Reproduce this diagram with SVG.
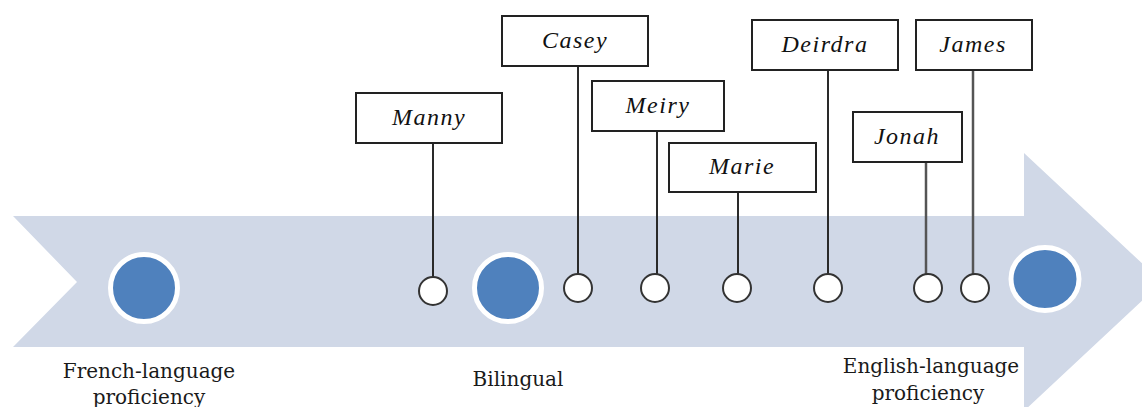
<svg xmlns="http://www.w3.org/2000/svg" width="1142" height="407" viewBox="0 0 1142 407">
<style>
.box{fill:#fff;stroke:#222;stroke-width:2}
.name{font-family:"Liberation Serif",serif;font-style:italic;font-size:24px;letter-spacing:1.5px;fill:#111;text-anchor:middle}
.lbl{font-family:"DejaVu Serif",serif;font-size:20px;fill:#1a1a1a;text-anchor:middle}
.big{fill:#4f81bd;stroke:#fff;stroke-width:5}
.dot{fill:#fff;stroke:#333;stroke-width:2}
.ln{stroke:#2a2a2a;stroke-width:2;fill:none}
.ln2{stroke:#555;stroke-width:2.5;fill:none}
</style>
<g id="arrow">
<polygon points="13,216 1024,216 1024,153 1162,282 1024,411 1024,347 13,347 77,282" fill="#d0d8e7"/>
</g>
<g id="connectors">
<line class="ln" x1="433" y1="143" x2="433" y2="277"/>
<line class="ln" x1="578" y1="66" x2="578" y2="274"/>
<line class="ln" x1="657" y1="131" x2="657" y2="274"/>
<line class="ln" x1="738" y1="192" x2="738" y2="274"/>
<line class="ln" x1="828" y1="70" x2="828" y2="274"/>
<line class="ln2" x1="926" y1="162" x2="926" y2="274"/>
<line class="ln2" x1="973" y1="70" x2="973" y2="274"/>
</g>
<g id="french"><circle class="big" cx="144" cy="288" r="33.5"/><text class="lbl" x="149" y="378">French-language</text><text class="lbl" x="149" y="404">proficiency</text></g>
<g id="bilingual"><circle class="big" cx="508" cy="288" r="33.5"/><text class="lbl" x="518" y="386">Bilingual</text></g>
<g id="english"><ellipse class="big" cx="1045" cy="279" rx="34" ry="31.5"/><text class="lbl" x="931" y="373">English-language</text><text class="lbl" x="928" y="400">proficiency</text></g>
<g id="manny"><circle class="dot" cx="433" cy="291" r="14"/><rect class="box" x="356" y="93" width="146" height="50"/><text class="name" x="429" y="125">Manny</text></g>
<g id="casey"><circle class="dot" cx="578" cy="288" r="14"/><rect class="box" x="502" y="16" width="146" height="50"/><text class="name" x="575" y="48">Casey</text></g>
<g id="meiry"><circle class="dot" cx="655" cy="288" r="14"/><rect class="box" x="592" y="81" width="132" height="50"/><text class="name" x="658" y="113">Meiry</text></g>
<g id="marie"><circle class="dot" cx="737" cy="288" r="14"/><rect class="box" x="669" y="143" width="147" height="49"/><text class="name" x="742" y="174">Marie</text></g>
<g id="deirdra"><circle class="dot" cx="828" cy="288" r="14"/><rect class="box" x="752" y="20" width="146" height="50"/><text class="name" x="825" y="52">Deirdra</text></g>
<g id="jonah"><circle class="dot" cx="928" cy="288" r="14"/><rect class="box" x="853" y="112" width="109" height="50"/><text class="name" x="907" y="144">Jonah</text></g>
<g id="james"><circle class="dot" cx="975" cy="288" r="14"/><rect class="box" x="916" y="20" width="116" height="50"/><text class="name" x="973" y="52">James</text></g>
</svg>
